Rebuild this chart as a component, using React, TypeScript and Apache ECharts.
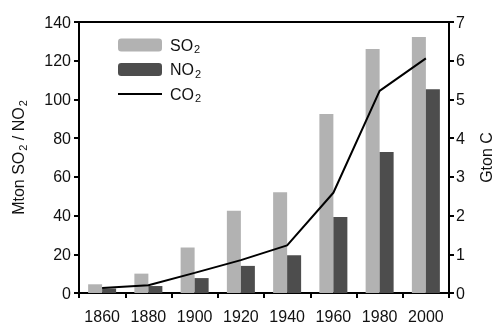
import React, { useEffect, useRef } from "react";
import * as echarts from "echarts";

const years = ["1860", "1880", "1900", "1920", "1940", "1960", "1980", "2000"];
const so2 = [4.5, 10, 23.5, 42.5, 52, 92.5, 126, 132.3];
const no2 = [2.3, 3.6, 7.7, 14, 19.5, 39.3, 72.8, 105.2];
const co2 = [0.13, 0.2, 0.52, 0.85, 1.23, 2.59, 5.22, 6.06];

const FONT = "Liberation Sans, Arial, sans-serif";
const rich = {
  a: { fontSize: 16, fontFamily: FONT, color: "#111", lineHeight: 19 },
  s: { fontSize: 11, fontFamily: FONT, color: "#111", lineHeight: 19, verticalAlign: "bottom", padding: [6, 0, 0, 1] },
};
const richRight = {
  a: { fontSize: 16, fontFamily: FONT, color: "#111", lineHeight: 15 },
};
const sub = (base: string) => `{a|${base}}{s|2}`;

export default function App() {
  const ref = useRef<HTMLDivElement>(null);
  useEffect(() => {
    if (!ref.current) return;
    const chart = echarts.init(ref.current, undefined, { renderer: "svg" });
    const axisLine = { show: true, lineStyle: { color: "#000", width: 2 } };
    const axisTick = { show: true, length: 5, lineStyle: { color: "#000", width: 2 } };
    const axisLabel = { color: "#111", fontSize: 16, fontFamily: FONT };
    chart.setOption({
      animation: false,
      textStyle: { fontFamily: FONT },
      grid: {
        left: 79, right: 46, top: 22, bottom: 31,
        containLabel: false, outerBoundsMode: "none",
        show: true, borderColor: "#000", borderWidth: 2,
      },
      legend: {
        orient: "vertical",
        left: 118,
        top: 37,
        padding: 0,
        itemWidth: 44,
        itemHeight: 13,
        itemGap: 7,
        data: [
          { name: "SO2" },
          { name: "NO2" },
          { name: "CO2", icon: "path://M0,0H44V2H0Z", itemStyle: { color: "#000" } },
        ],
        formatter: (n: string) => sub(n.slice(0, 2)),
        textStyle: { rich, padding: [0, 0, 0, 3] },
      },
      xAxis: {
        type: "category",
        data: years,
        boundaryGap: true,
        axisLine,
        axisTick: { ...axisTick, alignWithLabel: false, interval: 0 },
        axisLabel: { ...axisLabel, margin: 15, interval: 0 },
        splitLine: { show: false },
      },
      yAxis: [
        {
          type: "value",
          min: 0,
          max: 140,
          interval: 20,
          position: "left",
          axisLine,
          axisTick,
          axisLabel: { ...axisLabel, margin: 8 },
          splitLine: { show: false },
          name: "{a|Mton SO}{s|2}{a| / NO}{s|2}",
          nameLocation: "middle",
          nameGap: 51,
          nameTextStyle: { rich },
        },
        {
          type: "value",
          min: 0,
          max: 7,
          interval: 1,
          position: "right",
          axisLine,
          axisTick,
          axisLabel: { ...axisLabel, margin: 7 },
          splitLine: { show: false },
          name: "{a|Gton C}",
          nameLocation: "middle",
          nameGap: 30,
          nameTextStyle: { rich: richRight },
        },
      ],
      series: [
        {
          name: "SO2",
          type: "bar",
          data: so2,
          barWidth: 14,
          barGap: "0%",
          itemStyle: { color: "#b2b2b2" },
        },
        {
          name: "NO2",
          type: "bar",
          data: no2,
          barWidth: 14,
          barGap: "0%",
          itemStyle: { color: "#4d4d4d" },
        },
        {
          name: "CO2",
          type: "line",
          yAxisIndex: 1,
          data: co2,
          symbol: "none",
          lineStyle: { color: "#000", width: 2 },
          itemStyle: { color: "#000" },
        },
      ],
    });
    return () => chart.dispose();
  }, []);
  return <div ref={ref} style={{ position: "fixed", left: 0, top: 0, width: 495, height: 324 }} />;
}
